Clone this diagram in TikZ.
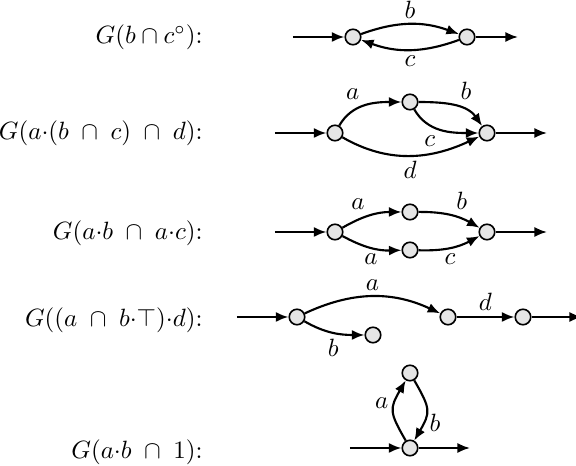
\documentclass[tikz,border=0pt]{standalone}
\usepackage{amsmath,amssymb}
\usetikzlibrary{arrows.meta}

\begin{document}
\begin{tikzpicture}[x=0.4pt, y=0.4pt,
      st/.style={circle, draw, fill=gray!20, line width=0.65pt, minimum size=6.2pt, inner sep=0pt},
      ar/.style={-{Latex[length=5pt,width=4pt]}, line width=0.85pt},
      every node/.append style={inner sep=2pt},
      lab/.style={anchor=east, inner sep=0pt}]
      \useasboundingbox (0,0) rectangle (576,-466);

      \node[lab] (t1) at (203,-37) {$G(b\cap c^\circ)$:};
      \node[lab] (t2) at (203,-133) {$G(a{\cdot}(b\;\cap\;c)\;\cap\;d)$:};
      \node[lab] (t3) at (203,-233) {$G(a{\cdot}b\;\cap\;a{\cdot}c)$:};
      \node[lab] (t4) at (203,-320) {$G((a\;\cap\;b{\cdot}\top){\cdot}d)$:};
      \node[lab] (t5) at (203,-452) {$G(a{\cdot}b\;\cap\;1)$:};

      \node[st] (p1) at (353,-37) {}; \node[st] (q1) at (467,-37) {};
      \coordinate (i1) at (293,-37); \coordinate (o1) at (518,-37);
      \draw[ar] (i1)--(p1); \draw[ar] (q1)--(o1);
      \draw[ar] (p1) to[bend left=20] node[above] {$b$} (q1);
      \draw[ar] (q1) to[bend left=20] node[below] {$c$} (p1);

      \node[st] (p2) at (335,-133) {}; \node[st] (m2) at (410,-102) {}; \node[st] (q2) at (487,-133) {};
      \coordinate (i2) at (275,-133); \coordinate (o2) at (547,-133);
      \draw[ar] (i2)--(p2); \draw[ar] (q2)--(o2);
      \draw[ar] (p2) to[out=60,in=180] node[above left] {$a$} (m2);
      \draw[ar] (m2) to[out=0,in=125] node[above right] {$b$} (q2);
      \draw[ar] (m2) to[out=-60,in=180] node[below left] {$c$} (q2);
      \draw[ar] (p2) to[out=-30,in=-155] node[below] {$d$} (q2);

      \node[st] (p3) at (335,-232) {}; \node[st] (m3) at (410,-212) {}; \node[st] (n3) at (410,-250) {}; \node[st] (q3) at (487,-232) {};
      \coordinate (i3) at (275,-232); \coordinate (o3) at (547,-232);
      \draw[ar] (i3)--(p3); \draw[ar] (q3)--(o3);
      \draw[ar] (p3) to[bend left=15] node[above left] {$a$} (m3);
      \draw[ar] (m3) to[bend left=15] node[above right] {$b$} (q3);
      \draw[ar] (p3) to[bend right=15] node[below] {$a$} (n3);
      \draw[ar] (n3) to[bend right=15] node[below] {$c$} (q3);

      \node[st] (p4) at (297,-317) {}; \node[st] (r4) at (373,-335) {}; \node[st] (s4) at (448,-317) {}; \node[st] (u4) at (523,-317) {};
      \coordinate (i4) at (237,-317); \coordinate (o4) at (582,-317);
      \draw[ar] (i4)--(p4); \draw[ar] (u4)--(o4);
      \draw[ar] (p4) to[bend left=25] node[above] {$a$} (s4);
      \draw[ar] (p4) to[out=-30,in=180] node[below] {$b$} (r4);
      \draw[ar] (s4)-- node[above] {$d$} (u4);

      \node[st] (m5) at (410,-373) {}; \node[st] (b5) at (410,-448) {};
      \coordinate (i5) at (350,-448); \coordinate (o5) at (470,-448);
      \draw[ar] (i5)--(b5); \draw[ar] (b5)--(o5);
      \draw[ar] (b5) to[out=120,in=-120,looseness=1.4] node[left,pos=.65] {$a$} (m5);
      \draw[ar] (m5) to[out=-60,in=60,looseness=1.4] node[right,pos=.75] {$b$} (b5);
    \end{tikzpicture}
\end{document}
